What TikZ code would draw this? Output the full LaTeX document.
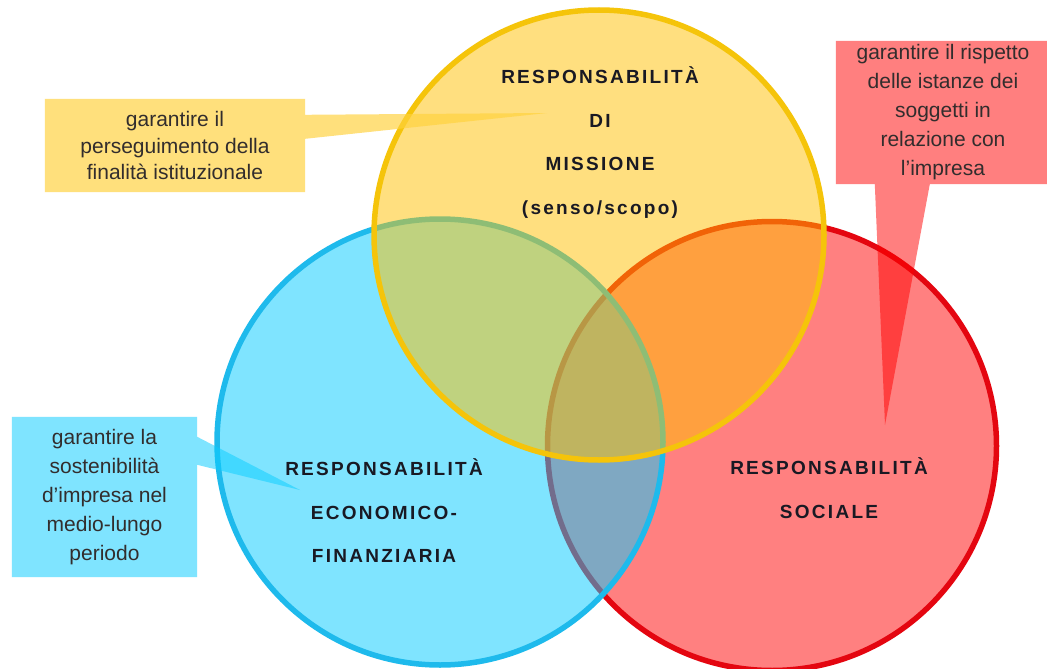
\documentclass[tikz,border=0pt]{standalone}
\usepackage{fontspec}
\setmainfont{Liberation Sans}
\newfontfamily\titlefont[LetterSpace=12]{Liberation Sans}
\usetikzlibrary{calc}
\pgfdeclarelayer{bgl}
\pgfdeclarelayer{circ}
\pgfdeclarelayer{call}
\pgfsetlayers{bgl,circ,call,main}
\definecolor{redfill}{RGB}{255,128,128}
\definecolor{redline}{RGB}{228,6,16}
\definecolor{redbase}{RGB}{255,0,0}
\definecolor{bluebase}{RGB}{11,205,255}
\definecolor{blueline}{RGB}{30,186,236}
\definecolor{yellowbase}{RGB}{255,193,0}
\definecolor{yellownote}{RGB}{255,210,60}
\definecolor{yellowline}{RGB}{245,196,10}
\definecolor{txt}{RGB}{25,25,35}
\definecolor{notetxt}{RGB}{50,45,45}
\begin{document}
\begin{tikzpicture}[x=1pt,y=-1pt,
  ring/.style={circle, inner sep=0pt, minimum size=#1, line width=5.5pt},
  title/.style={font=\titlefont\bfseries\fontsize{19}{43.5}\selectfont, text=txt, align=center, inner sep=0pt},
  note/.style={font=\fontsize{21}{29}\selectfont, text=notetxt, align=center, inner sep=0pt},
  callout/.style={fill=#1, fill opacity=0.5}]
\begin{pgfonlayer}{bgl}
\fill[white] (0,0) rectangle (1047,669);
\end{pgfonlayer}
\useasboundingbox (0,0) rectangle (1047,669);

% circles
\begin{pgfonlayer}{circ}
\node[ring=449, fill=redfill, draw=redline] (red) at (772,446) {};
\node[ring=446, fill=bluebase, fill opacity=0.52, draw=blueline] (blue) at (440,442) {};
\node[ring=450, fill=yellowbase, fill opacity=0.5, draw=yellowline] (yellow) at (599,235) {};
\end{pgfonlayer}

% circle titles
\node[title] (ytitle) at (600,142.5) {RESPONSABILITÀ\\DI\\MISSIONE\\(senso/scopo)};
\node[title] (btitle) at (384,511) {RESPONSABILITÀ\\ECONOMICO-\\FINANZIARIA};
\node[title] (rtitle) at (829,488) {RESPONSABILITÀ\\SOCIALE};

% callout boxes with text
\node[note, font=\fontsize{21}{26.5}\selectfont, minimum width=260, minimum height=93] (ybox) at (175,145.5)
  {garantire il\\perseguimento della\\finalità istituzionale};
\node[note, minimum width=214, minimum height=143] (rbox) at (943,112.5)
  {garantire il rispetto\\delle istanze dei\\soggetti in\\relazione con\\l’impresa};
\node[note, minimum width=185, minimum height=160] (bbox) at (104.5,497)
  {garantire la\\sostenibilità\\d’impresa nel\\medio-lungo\\periodo};

\coordinate (ytip) at (547,113);
\coordinate (rtip) at (885,425);
\coordinate (btip) at (300,490);

\begin{pgfonlayer}{call}
\fill[callout=yellownote, fill opacity=0.67] (ybox.north west) -- (ybox.north east)
  -- ($(ybox.north east)+(0,16)$) -- (ytip) -- ($(ybox.north east)+(0,40)$)
  -- (ybox.south east) -- (ybox.south west) -- cycle;
\fill[callout=redbase] (rbox.north west) -- (rbox.north east) -- (rbox.south east)
  -- ($(rbox.south west)+(94,0)$) -- (rtip) -- ($(rbox.south west)+(39,0)$)
  -- (rbox.south west) -- cycle;
\fill[callout=bluebase, fill opacity=0.52] (bbox.north west) -- (bbox.north east)
  -- ($(bbox.north east)+(0,20)$) -- (btip) -- ($(bbox.north east)+(0,48)$)
  -- (bbox.south east) -- (bbox.south west) -- cycle;
\end{pgfonlayer}
\end{tikzpicture}
\end{document}
